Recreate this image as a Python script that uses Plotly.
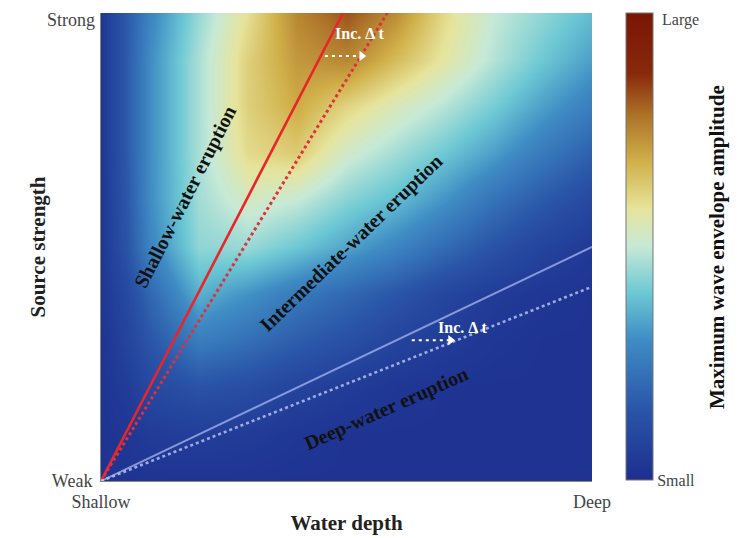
import plotly.graph_objects as go

# ---------------- data (normalised) ----------------
depth = [0.0, 0.05, 0.1, 0.2, 0.3, 0.4, 0.5, 0.6, 0.7, 0.8, 0.9, 1.0]
strength = [0.0, 0.1, 0.2, 0.3, 0.4, 0.5, 0.6, 0.7, 0.8, 0.9, 1.0]
# rows follow `strength` (weak -> strong), columns follow `depth` (shallow -> deep)
amplitude = [
    [.02, .02, .02, .02, .02, .02, .02, .02, .02, .02, .02, .02],
    [.02, .03, .05, .06, .05, .03, .02, .02, .02, .02, .02, .02],
    [.02, .05, .10, .14, .12, .08, .05, .03, .02, .02, .02, .02],
    [.02, .08, .15, .26, .22, .17, .13, .08, .05, .03, .02, .02],
    [.03, .10, .20, .36, .31, .25, .20, .15, .09, .05, .03, .02],
    [.03, .14, .28, .44, .45, .40, .34, .28, .21, .14, .08, .04],
    [.03, .15, .30, .46, .53, .50, .43, .38, .31, .23, .16, .10],
    [.03, .16, .30, .47, .60, .63, .52, .46, .40, .33, .25, .18],
    [.03, .16, .30, .47, .62, .69, .61, .54, .48, .41, .33, .26],
    [.03, .16, .30, .47, .62, .72, .75, .66, .57, .48, .40, .33],
    [.03, .16, .28, .45, .59, .75, .82, .74, .60, .50, .44, .38],
]

# regime boundaries from the origin: red lines reach the top edge at these depths,
# light lines reach the right edge at these strengths (solid, then increased dt)
shallow_bound_top = [0.493, 0.583]
deep_bound_right = [0.50, 0.415]

x_ticks = [0, 1]
x_ticktext = ["Shallow", "Deep"]
y_ticks = [0, 1]
y_ticktext = ["Weak", "Strong"]
cbar_ticks = [0, 1]
cbar_ticktext = ["Small", "Large"]

regime_labels = ["Shallow-water eruption", "Intermediate-water eruption", "Deep-water eruption"]
regime_x = [0.173, 0.511, 0.582]
regime_y = [0.607, 0.509, 0.154]
regime_angle = [-63, -44, -24]

inc_x = [0.527, 0.737]
inc_y = [0.957, 0.327]
arrow_x0 = [0.456, 0.633]
arrow_x1 = [0.531, 0.712]
arrow_y = [0.908, 0.301]

colorscale = [
    [0.00, "#1d2f8f"],
    [0.15, "#2a55a8"],
    [0.30, "#3f8cc4"],
    [0.40, "#6cc8d4"],
    [0.50, "#c6e9d6"],
    [0.58, "#e6e49c"],
    [0.68, "#d1b14a"],
    [0.78, "#ad7329"],
    [0.87, "#88290c"],
    [1.00, "#7a1505"],
]

SERIF = "Liberation Serif, Times New Roman, serif"
TICKFONT = dict(family=SERIF, size=18, color="#444")
CBFONT = dict(family=SERIF, size=16, color="#444")

fig = go.Figure()
# bottom tick labels come from the axes; the top ones ("Strong", "Large") sit at the
# very top edge of the page, so they are drawn as annotations nudged just inside it
fig.add_trace(go.Heatmap(
    x=depth, y=strength, z=amplitude, zsmooth="best", zmin=0, zmax=1,
    colorscale=colorscale, hoverinfo="skip",
    colorbar=dict(
        x=1.069, xanchor="left", xpad=0, y=1, yanchor="top", ypad=0,
        len=0.998, lenmode="fraction", thickness=27,
        outlinecolor="#777", outlinewidth=1,
        tickvals=cbar_ticks[:1], ticktext=cbar_ticktext[:1], ticks="",
        tickfont=CBFONT,
    ),
))

# red boundaries (shallow / intermediate)
fig.add_trace(go.Scatter(x=[0, shallow_bound_top[0]], y=[0, 1], mode="lines",
                         line=dict(color="#e8262a", width=2.6), hoverinfo="skip", showlegend=False))
fig.add_trace(go.Scatter(x=[0, shallow_bound_top[1]], y=[0, 1], mode="lines",
                         line=dict(color="#e0303a", width=3, dash="dot"), hoverinfo="skip", showlegend=False))
# light boundaries (intermediate / deep)
fig.add_trace(go.Scatter(x=[0, 1], y=[0, deep_bound_right[0]], mode="lines",
                         line=dict(color="rgba(160,175,235,0.8)", width=2), hoverinfo="skip", showlegend=False))
fig.add_trace(go.Scatter(x=[0, 1], y=[0, deep_bound_right[1]], mode="lines",
                         line=dict(color="rgba(190,200,245,0.8)", width=2.6, dash="dot"), hoverinfo="skip", showlegend=False))

# dashed white arrows
for x0, x1, y in zip(arrow_x0, arrow_x1, arrow_y):
    fig.add_trace(go.Scatter(x=[x0, x1], y=[y, y], mode="lines",
                             line=dict(color="white", width=2, dash="3px,4px"),
                             hoverinfo="skip", showlegend=False))
    fig.add_trace(go.Scatter(x=[x1], y=[y], mode="markers",
                             marker=dict(symbol="triangle-right", size=9, color="white"),
                             hoverinfo="skip", showlegend=False))

for xi, yi in zip(inc_x, inc_y):
    fig.add_annotation(x=xi, y=yi, text="Inc. Δ t", showarrow=False,
                       font=dict(family=SERIF, size=16, color="white", weight="bold"))

for t, xi, yi, a in zip(regime_labels, regime_x, regime_y, regime_angle):
    fig.add_annotation(x=xi, y=yi, text=t, textangle=a, showarrow=False,
                       font=dict(family=SERIF, size=20, color="#111", weight="bold"))

fig.add_annotation(xref="paper", yref="paper", x=1.2546, xanchor="center", y=0.5, yanchor="middle",
                   text="Maximum wave envelope amplitude", textangle=-90, showarrow=False,
                   font=dict(family=SERIF, size=21, color="#111", weight="bold"))

# top tick labels
fig.add_annotation(xref="paper", yref="y", x=0, y=y_ticks[1], xanchor="right", yanchor="middle",
                   xshift=-4, yshift=-7, text=y_ticktext[1], showarrow=False, font=TICKFONT)
fig.add_annotation(xref="paper", yref="paper", x=1.1385, y=cbar_ticks[1], xanchor="left", yanchor="middle",
                   yshift=-7, text=cbar_ticktext[1], showarrow=False, font=CBFONT)

# the page shows the figure with an 8 px body offset, so the figure is 8 px smaller
fig.update_layout(
    width=732, height=530,
    margin=dict(l=93, r=148, t=5, b=57, autoexpand=False),
    paper_bgcolor="white", plot_bgcolor="white",
    font=dict(family=SERIF),
    xaxis=dict(range=[0, 1], tickvals=x_ticks, ticktext=x_ticktext, ticks="", automargin=False,
               ticklabeloverflow="allow",
               tickfont=TICKFONT, ticklabelstandoff=4,
               showgrid=False, zeroline=False, showline=True, linecolor="#888", linewidth=1,
               title=dict(text="Water depth", standoff=4,
                          font=dict(family=SERIF, size=21, color="#222", weight="bold"))),
    yaxis=dict(range=[0, 1], tickvals=y_ticks[:1], ticktext=y_ticktext[:1], ticks="", automargin=False,
               ticklabeloverflow="allow",
               tickfont=TICKFONT, ticklabelstandoff=4,
               showgrid=False, zeroline=False, showline=True, linecolor="#888", linewidth=1,
               title=dict(text="Source strength", standoff=0,
                          font=dict(family=SERIF, size=21, color="#222", weight="bold"))),
)

fig.write_html("out.html")
